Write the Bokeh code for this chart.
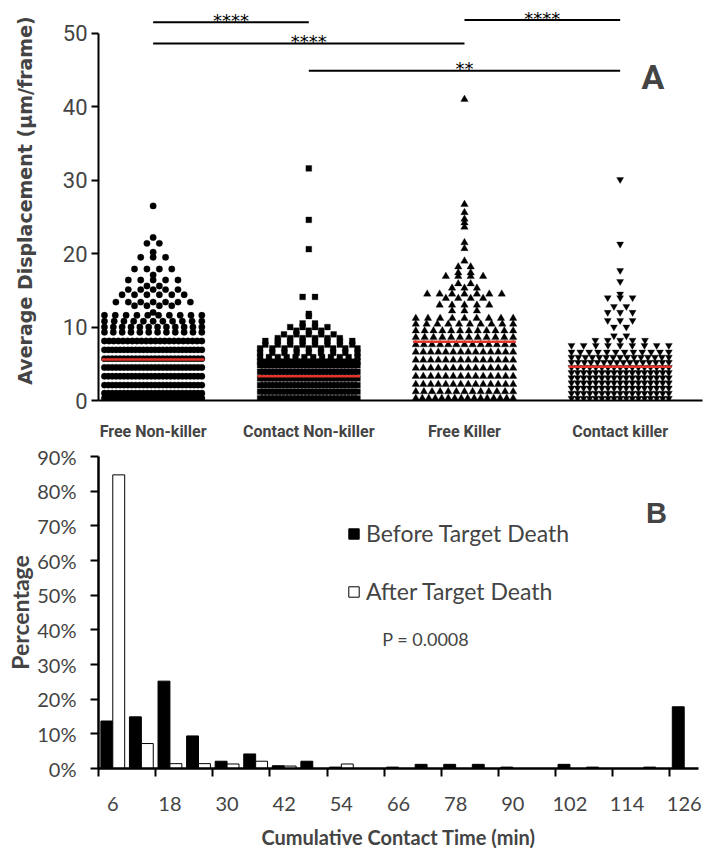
from bokeh.plotting import figure
from bokeh.models import (ColumnDataSource, FixedTicker, Label, Legend, LegendItem,
                          Range1d, PrintfTickFormatter)
from bokeh.layouts import column
from bokeh.embed import file_html
from bokeh.resources import INLINE
from bokeh.core.properties import value
from bokeh.transform import dodge

# ====================== DATA : panel A ======================
group_names = ["Free Non-killer", "Contact Non-killer", "Free Killer", "Contact killer"]
a_ticks = [0, 10, 20, 30, 40, 50]

# rows of the dot plot: displacement value and number of cells at that value
fnk_values = [0.3, 1.0, 2.1, 3.3, 4.5, 5.7, 6.9, 8.1, 9.3, 10.0, 10.8, 11.6, 12.0, 12.9,
              13.4, 14.4, 15.1, 15.6, 16.4, 17.1, 17.9, 19.5, 20.2, 21.4, 22.2, 26.5]
fnk_counts = [24, 26, 26, 26, 26, 26, 26, 22, 12, 12, 11, 10, 1, 4,
              7, 6, 5, 2, 5, 1, 4, 3, 1, 2, 1, 1]

cnk_values = [0.3, 1.2, 2.1, 3.0, 3.9, 4.8, 5.3, 5.9, 6.5, 7.1, 7.6, 8.1, 8.5, 9.0, 9.5,
              10.0, 10.5, 11.5, 11.8, 14.1, 20.6, 24.6, 31.6]
cnk_counts = [28, 28, 28, 28, 28, 28, 22, 12, 9, 9, 8, 8, 6, 5, 3,
              4, 2, 1, 1, 2, 1, 1, 1]

fk_values = [0.3, 1.2, 2.2, 3.3, 4.4, 5.5, 6.6, 7.6, 8.6, 9.5, 10.4, 11.2, 12.2, 13.0, 13.9,
             14.5, 15.3, 15.9, 16.9, 17.4, 18.2, 19.0, 20.7, 21.5, 23.6, 24.2, 24.7, 25.6,
             26.7, 41.0]
fk_counts = [16, 13, 14, 14, 14, 14, 14, 13, 12, 12, 10, 9, 3, 5, 4,
             7, 3, 2, 4, 2, 2, 1, 1, 1, 1, 1, 1, 1,
             1, 1]

ck_values = [0.3, 1.0, 1.7, 2.4, 3.1, 3.8, 4.5, 5.2, 5.9, 6.6, 7.5, 8.2, 8.8, 10.0, 10.9,
             12.0, 12.8, 14.0, 14.5, 16.2, 17.7, 21.3, 30.1]
ck_counts = [17, 17, 17, 17, 17, 17, 17, 16, 15, 12, 9, 5, 2, 2, 3,
             3, 2, 3, 1, 1, 1, 1, 1]

group_means = [5.6, 3.3, 8.0, 4.6]

sig_pairs = [(1, 2), (3, 4), (1, 3), (2, 4)]
sig_labels = ["****", "****", "****", "**"]

# ====================== DATA : panel B ======================
contact_minutes = [6, 12, 18, 24, 30, 36, 42, 48, 54, 60, 66, 72, 78, 84, 90, 96, 102, 108,
                   114, 120, 126]
before_death = [13.7, 14.9, 25.2, 9.4, 2.1, 4.2, 0.8, 2.1, 0.4, 0.0, 0.4, 1.2, 1.2, 1.2, 0.4,
                0.0, 1.2, 0.4, 0.0, 0.4, 17.8]
after_death = [84.7, 7.2, 1.4, 1.4, 1.3, 2.1, 0.7, 0.0, 1.3, 0.0, 0.0, 0.0, 0.0, 0.0, 0.0,
               0.0, 0.0, 0.0, 0.0, 0.0, 0.0]
percent_ticks = [0, 10, 20, 30, 40, 50, 60, 70, 80, 90]
p_value_text = "P = 0.0008"

# ====================== styles / layout ======================
COND = "Roboto"
CAL = "Lato"
RED = "#e3342b"

A_W, A_H = 706, 443
A_LEFT, A_RIGHT, A_TOP, A_BOTTOM = 97, 1, 0, 41
A_X0, A_X1 = 0.649, 4.529
A_Y1 = 54.47
PX_PER_X = (A_W - A_LEFT - A_RIGHT) / (A_X1 - A_X0)


def swarm(center, vals, cnts, max_w=98.0, slot=12.5):
    xs, ys = [], []
    for v, n in zip(vals, cnts):
        step = slot if n <= 1 else min(slot, max_w / (n - 1))
        for k in range(n):
            xs.append(center + (k - (n - 1) / 2.0) * step / PX_PER_X)
            ys.append(v)
    return xs, ys


pA = figure(width=A_W, height=A_H, output_backend="svg", toolbar_location=None,
            x_range=Range1d(A_X0, A_X1), y_range=Range1d(0, A_Y1),
            min_border_left=A_LEFT, min_border_right=A_RIGHT,
            min_border_top=A_TOP, min_border_bottom=A_BOTTOM)
pA.grid.visible = False
pA.outline_line_color = None

groups = [
    (fnk_values, fnk_counts, "circle", 6.4),
    (cnk_values, cnk_counts, "square", 5.8),
    (fk_values, fk_counts, "triangle", 7.5),
    (ck_values, ck_counts, "inverted_triangle", 7),
]
for i, (vals, cnts, marker, size) in enumerate(groups):
    center = i + 1
    xs, ys = swarm(center, vals, cnts)
    src = ColumnDataSource(dict(x=xs, y=ys))
    pA.scatter("x", "y", source=src, marker=marker, size=size,
               fill_color="black", line_color="black", line_width=0.3)

pos = [i + 1 for i in range(len(group_names))]
mean_src = ColumnDataSource(dict(x0=[c - 0.33 for c in pos], x1=[c + 0.33 for c in pos],
                                 y=group_means))
pA.segment(x0="x0", y0="y", x1="x1", y1="y", source=mean_src, line_color=RED, line_width=2.5)

sig_y = [51.5, 51.8, 48.6, 44.9]
sig_src = ColumnDataSource(dict(
    x0=[a for a, b in sig_pairs], x1=[b for a, b in sig_pairs], y=sig_y,
    xm=[(a + b) / 2 for a, b in sig_pairs], lab=sig_labels))
pA.segment(x0="x0", y0="y", x1="x1", y1="y", source=sig_src, line_color="black", line_width=2)
pA.text(x="xm", y="y", text="lab", source=sig_src, text_align="center",
        text_baseline="alphabetic", text_font=value("DejaVu Sans"),
        text_font_size="18px", text_color="black", y_offset=-2)

pA.add_layout(Label(x=4.21, y=44.0, text="A", text_align="center", text_baseline="middle",
                    text_font=COND, text_font_style="bold", text_font_size="34px"))

ya = pA.yaxis[0]
ya.ticker = FixedTicker(ticks=a_ticks)
ya.bounds = (0, 50)
ya.minor_tick_line_color = None
ya.major_tick_out = 7
ya.major_tick_in = 0
ya.major_tick_line_width = 2
ya.axis_line_width = 2
ya.major_label_text_font = COND
ya.major_label_text_font_size = "22px"
ya.major_label_standoff = 4
ya.axis_label = "Average Displacement (μm/frame)"
ya.axis_label_text_font = "DejaVu Sans"
ya.axis_label_text_font_style = "bold"
ya.axis_label_text_font_size = "19px"
ya.axis_label_standoff = 24

xa = pA.xaxis[0]
xa.ticker = FixedTicker(ticks=pos)
xa.major_label_overrides = {p: n for p, n in zip(pos, group_names)}
xa.major_tick_line_color = None
xa.major_tick_out = 0
xa.major_tick_in = 0
xa.minor_tick_line_color = None
xa.axis_line_width = 2
xa.major_label_text_font = COND
xa.major_label_text_font_style = "bold"
xa.major_label_text_font_size = "16px"
xa.major_label_standoff = 21

# ====================== panel B ======================
B_W, B_H = 702, 410
pB = figure(width=B_W, height=B_H, output_backend="svg", toolbar_location=None,
            x_range=Range1d(3, 129), y_range=Range1d(0, 90),
            min_border_left=98, min_border_right=4, min_border_top=13, min_border_bottom=85)
pB.grid.visible = False
pB.outline_line_color = None

srcB = ColumnDataSource(dict(m=contact_minutes, before=before_death, after=after_death))
rb = pB.vbar(x=dodge("m", -1.25), top="before", width=2.5, source=srcB,
             fill_color="black", line_color="black", line_width=1)
rw = pB.vbar(x=dodge("m", 1.25), top="after", width=2.5, source=srcB,
             fill_color="white", line_color="black", line_width=1)

legend = Legend(items=[LegendItem(label="Before Target Death", renderers=[rb]),
                       LegendItem(label="After Target Death", renderers=[rw])],
                location=(249, 163), glyph_width=13, glyph_height=13, label_height=26,
                spacing=30, padding=0, margin=0, label_standoff=6,
                border_line_color=None, background_fill_alpha=0,
                label_text_font=CAL, label_text_font_size="23px")
pB.add_layout(legend)

pB.add_layout(Label(x=62.6, y=37.5, text=p_value_text, text_baseline="middle",
                    text_font=CAL, text_font_size="18px"))
pB.add_layout(Label(x=120.2, y=73.6, text="B", text_align="center", text_baseline="middle",
                    text_font="Liberation Sans", text_font_style="bold", text_font_size="29px"))

yb = pB.yaxis[0]
yb.ticker = FixedTicker(ticks=percent_ticks)
yb.formatter = PrintfTickFormatter(format="%d%%")
yb.minor_tick_line_color = None
yb.major_tick_out = 8
yb.major_tick_in = 0
yb.major_tick_line_width = 2
yb.axis_line_width = 2.5
yb.major_label_text_font = CAL
yb.major_label_text_font_size = "20px"
yb.major_label_standoff = 14
yb.axis_label = "Percentage"
yb.axis_label_text_font = CAL
yb.axis_label_text_font_style = "bold"
yb.axis_label_text_font_size = "23px"
yb.axis_label_standoff = 0

label_minutes = contact_minutes[::2]
xb = pB.xaxis[0]
xb.ticker = FixedTicker(ticks=label_minutes, minor_ticks=[m - 3 for m in label_minutes])
xb.major_tick_line_color = None
xb.minor_tick_line_color = "black"
xb.minor_tick_line_width = 2
xb.minor_tick_out = 8
xb.minor_tick_in = 0
xb.major_tick_out = 8
xb.axis_line_width = 2.5
xb.major_label_text_font = CAL
xb.major_label_text_font_size = "20px"
xb.major_label_standoff = 20
xb.axis_label = "Cumulative Contact Time (min)"
xb.axis_label_text_font = CAL
xb.axis_label_text_font_style = "bold"
xb.axis_label_text_font_size = "20px"
xb.axis_label_standoff = 11

page = column(pA, pB)
open("out.html", "w").write(file_html(page, INLINE))
